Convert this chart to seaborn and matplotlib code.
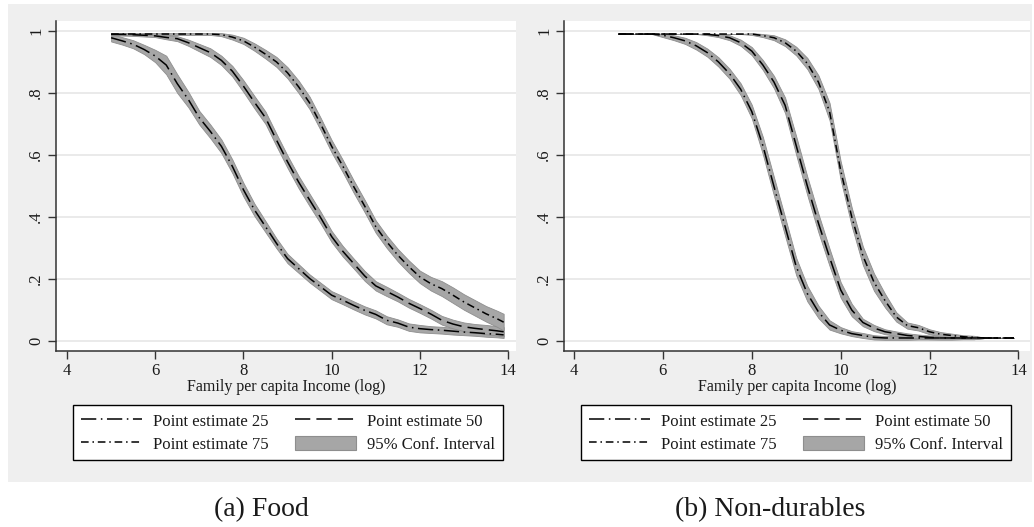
import matplotlib
matplotlib.use("Agg")
import numpy as np
import pandas as pd
import matplotlib.pyplot as plt
import seaborn as sns
from matplotlib.lines import Line2D
from matplotlib.patches import Patch, Rectangle

# Family per capita income (log) at which the curves are evaluated
income = [5.0, 5.25, 5.5, 5.75, 6.0, 6.25, 6.5, 6.75, 7.0, 7.25, 7.5, 7.75,
          8.0, 8.25, 8.5, 8.75, 9.0, 9.25, 9.5, 9.75, 10.0, 10.25, 10.5, 10.75,
          11.0, 11.25, 11.5, 11.75, 12.0, 12.25, 12.5, 12.75, 13.0, 13.25, 13.5,
          13.75, 13.9]

# (a) Food: point estimates
food_p25 = [0.978, 0.968, 0.957, 0.940, 0.919, 0.890, 0.830, 0.779, 0.720, 0.676,
            0.628, 0.563, 0.488, 0.423, 0.369, 0.315, 0.266, 0.234, 0.202, 0.175,
            0.148, 0.132, 0.115, 0.099, 0.086, 0.067, 0.058, 0.045, 0.040, 0.037,
            0.035, 0.032, 0.029, 0.027, 0.024, 0.022, 0.020]
food_p50 = [0.989, 0.989, 0.988, 0.986, 0.984, 0.979, 0.975, 0.962, 0.946, 0.930,
            0.905, 0.870, 0.822, 0.770, 0.720, 0.648, 0.578, 0.513, 0.455, 0.398,
            0.337, 0.290, 0.250, 0.210, 0.178, 0.160, 0.142, 0.122, 0.105, 0.087,
            0.067, 0.055, 0.046, 0.041, 0.037, 0.033, 0.030]
food_p75 = [0.990, 0.990, 0.990, 0.990, 0.990, 0.990, 0.990, 0.990, 0.990, 0.990,
            0.988, 0.980, 0.968, 0.948, 0.925, 0.900, 0.865, 0.820, 0.768, 0.700,
            0.628, 0.565, 0.498, 0.435, 0.369, 0.320, 0.277, 0.240, 0.207, 0.185,
            0.169, 0.148, 0.126, 0.107, 0.088, 0.072, 0.061]

# (a) Food: half-width of the 95% confidence interval
food_ci25 = [0.012, 0.012, 0.013, 0.015, 0.020, 0.030, 0.030, 0.025, 0.022, 0.022,
             0.022, 0.022, 0.022, 0.020, 0.018, 0.016, 0.015, 0.014, 0.013, 0.013,
             0.013, 0.013, 0.013, 0.013, 0.013, 0.013, 0.012, 0.012, 0.012, 0.011,
             0.011, 0.011, 0.010, 0.010, 0.010, 0.010, 0.010]
food_ci50 = [0.004, 0.004, 0.004, 0.004, 0.004, 0.006, 0.008, 0.010, 0.012, 0.014,
             0.015, 0.017, 0.019, 0.020, 0.020, 0.020, 0.020, 0.020, 0.020, 0.019,
             0.018, 0.017, 0.016, 0.016, 0.015, 0.015, 0.014, 0.014, 0.014, 0.014,
             0.014, 0.014, 0.014, 0.014, 0.015, 0.015, 0.015]
food_ci75 = [0.003, 0.003, 0.003, 0.003, 0.003, 0.003, 0.003, 0.003, 0.003, 0.003,
             0.005, 0.008, 0.010, 0.012, 0.014, 0.016, 0.018, 0.020, 0.020, 0.020,
             0.020, 0.020, 0.020, 0.020, 0.020, 0.020, 0.020, 0.020, 0.020, 0.022,
             0.024, 0.025, 0.025, 0.025, 0.025, 0.026, 0.027]

# (b) Non-durables: point estimates
nondur_p25 = [0.990, 0.990, 0.990, 0.990, 0.986, 0.978, 0.968, 0.952, 0.930, 0.900,
              0.862, 0.812, 0.740, 0.630, 0.498, 0.369, 0.240, 0.153, 0.094, 0.052,
              0.035, 0.024, 0.018, 0.012, 0.010, 0.010, 0.010, 0.010, 0.010, 0.010,
              0.010, 0.010, 0.010, 0.010, 0.010, 0.010, 0.010]
nondur_p50 = [0.990, 0.990, 0.990, 0.990, 0.990, 0.990, 0.990, 0.990, 0.989, 0.985,
              0.978, 0.962, 0.935, 0.890, 0.835, 0.760, 0.630, 0.500, 0.380, 0.270,
              0.165, 0.100, 0.060, 0.042, 0.030, 0.024, 0.018, 0.015, 0.012, 0.010,
              0.010, 0.010, 0.010, 0.010, 0.010, 0.010, 0.010]
nondur_p75 = [0.990, 0.990, 0.990, 0.990, 0.990, 0.990, 0.990, 0.990, 0.990, 0.990,
              0.990, 0.990, 0.990, 0.985, 0.978, 0.962, 0.935, 0.895, 0.835, 0.740,
              0.550, 0.400, 0.275, 0.190, 0.130, 0.078, 0.050, 0.043, 0.030, 0.022,
              0.018, 0.014, 0.012, 0.010, 0.010, 0.010, 0.010]

# (b) Non-durables: half-width of the 95% confidence interval
nondur_ci25 = [0.000, 0.000, 0.000, 0.000, 0.006, 0.008, 0.010, 0.012, 0.013, 0.015,
               0.016, 0.019, 0.022, 0.028, 0.030, 0.030, 0.028, 0.025, 0.020, 0.015,
               0.010, 0.008, 0.008, 0.007, 0.006, 0.006, 0.006, 0.005, 0.005, 0.005,
               0.005, 0.004, 0.004, 0.000, 0.000, 0.000, 0.000]
nondur_ci50 = [0.000, 0.000, 0.000, 0.000, 0.000, 0.000, 0.000, 0.000, 0.003, 0.005,
               0.008, 0.010, 0.013, 0.016, 0.020, 0.025, 0.030, 0.030, 0.030, 0.028,
               0.025, 0.020, 0.012, 0.010, 0.008, 0.007, 0.007, 0.006, 0.006, 0.005,
               0.005, 0.004, 0.004, 0.000, 0.000, 0.000, 0.000]
nondur_ci75 = [0.000, 0.000, 0.000, 0.000, 0.000, 0.000, 0.000, 0.000, 0.000, 0.000,
               0.000, 0.000, 0.003, 0.005, 0.008, 0.011, 0.014, 0.018, 0.022, 0.028,
               0.030, 0.030, 0.030, 0.028, 0.022, 0.015, 0.010, 0.009, 0.008, 0.007,
               0.006, 0.005, 0.005, 0.000, 0.000, 0.000, 0.000]

series_labels = ["Point estimate 25", "Point estimate 50", "Point estimate 75"]
ci_label = "95% Conf. Interval"
panel_titles = ["(a) Food", "(b) Non-durables"]
x_label = "Family per capita Income (log)"
x_ticks = [4, 6, 8, 10, 12, 14]
y_ticks = [0, 0.2, 0.4, 0.6, 0.8, 1.0]
y_tick_labels = ["0", ".2", ".4", ".6", ".8", "1"]

sns.set_theme(style="white")
plt.rcParams["font.family"] = ["Liberation Serif", "DejaVu Serif"]

W, H = 1034, 527
fig = plt.figure(figsize=(W / 100, H / 100), dpi=100)
fig.patch.set_facecolor("white")
fig.patches.append(Rectangle((8 / W, 1 - 482 / H), (1032 - 8) / W, (482 - 4) / H,
                             transform=fig.transFigure, facecolor="#efefef",
                             edgecolor="none", zorder=-10))


def add_axes_px(x0, y0, x1, y1):
    return fig.add_axes([x0 / W, 1 - y1 / H, (x1 - x0) / W, (y1 - y0) / H])


dash_styles = {
    series_labels[0]: (10, 3, 1, 3),
    series_labels[1]: (10, 4),
    series_labels[2]: (5, 2.5, 1, 2.5),
}
band_face = "#a6a6a6"
band_edge = "#8e8e8e"

panels = [
    dict(box=(56, 21, 516, 351), xlim=(3.75, 14.18), legend_x=73,
         est=[food_p25, food_p50, food_p75], ci=[food_ci25, food_ci50, food_ci75],
         title=panel_titles[0], title_x=261),
    dict(box=(564, 21, 1030, 351), xlim=(3.775, 14.26), legend_x=581,
         est=[nondur_p25, nondur_p50, nondur_p75],
         ci=[nondur_ci25, nondur_ci50, nondur_ci75],
         title=panel_titles[1], title_x=770),
]

x = np.array(income)
for p in panels:
    ax = add_axes_px(*p["box"])
    ax.set_facecolor("white")
    ax.set_zorder(1)

    # confidence bands underneath the point estimates
    for est, hw in zip(p["est"], p["ci"]):
        est = np.array(est)
        hw = np.array(hw)
        ax.fill_between(x, est - hw, est + hw, facecolor=band_face,
                        edgecolor=band_edge, linewidth=0.6, zorder=2)

    df = pd.concat([pd.DataFrame({"income": income, "prob": est, "series": lab})
                    for est, lab in zip(p["est"], series_labels)],
                   ignore_index=True)
    sns.lineplot(data=df, x="income", y="prob", style="series", dashes=dash_styles,
                 color="black", linewidth=1.1, estimator=None, sort=False,
                 legend=False, ax=ax, zorder=3)

    ax.set_xlim(*p["xlim"])
    ax.set_ylim(-0.032, 1.032)
    ax.set_xticks(x_ticks)
    ax.set_xticklabels([str(t) for t in x_ticks])
    ax.set_yticks(y_ticks)
    ax.set_yticklabels(y_tick_labels, rotation=90, va="center")
    ax.yaxis.grid(True, color="#e6e6e6", linewidth=1.2)
    ax.xaxis.grid(False)
    ax.set_axisbelow(True)

    for side in ["top", "right"]:
        ax.spines[side].set_visible(False)
    for side in ["left", "bottom"]:
        ax.spines[side].set_color("#333333")
        ax.spines[side].set_linewidth(1.1)
    ax.spines["bottom"].set_bounds(p["xlim"][0], 14)

    ax.tick_params(axis="both", which="major", direction="out", length=5.5,
                   width=1.0, color="#333333", labelsize=12, labelcolor="#1a1a1a",
                   bottom=True, left=True, pad=3)
    ax.set_xlabel(x_label, fontsize=11.5, color="#1a1a1a", labelpad=0)
    ax.set_ylabel("")

    handles = [
        Line2D([], [], color="black", linewidth=1.1, dashes=dash_styles[series_labels[0]]),
        Line2D([], [], color="black", linewidth=1.1, dashes=dash_styles[series_labels[2]]),
        Line2D([], [], color="black", linewidth=1.1, dashes=dash_styles[series_labels[1]]),
        Patch(facecolor=band_face, edgecolor=band_edge, linewidth=0.8),
    ]
    labels = [series_labels[0], series_labels[2], series_labels[1], ci_label]
    leg = ax.legend(handles, labels, ncol=2, loc="upper left",
                    bbox_to_anchor=(p["legend_x"] / W, 1 - 405 / H),
                    bbox_transform=fig.transFigure, borderaxespad=0,
                    frameon=True, fancybox=False, edgecolor="black",
                    facecolor="white", framealpha=1, fontsize=12,
                    handlelength=3.7, handleheight=1.0, handletextpad=0.66,
                    columnspacing=1.55, labelspacing=0.35, borderpad=0.45)
    leg.get_frame().set_linewidth(1.0)
    for t in leg.get_texts():
        t.set_color("#1a1a1a")

    fig.text(p["title_x"] / W, 1 - 510 / H, p["title"], ha="center", va="center",
             fontsize=20, color="#1a1a1a", family=["Liberation Serif", "DejaVu Serif"])

fig.savefig("out.png", dpi=100)
